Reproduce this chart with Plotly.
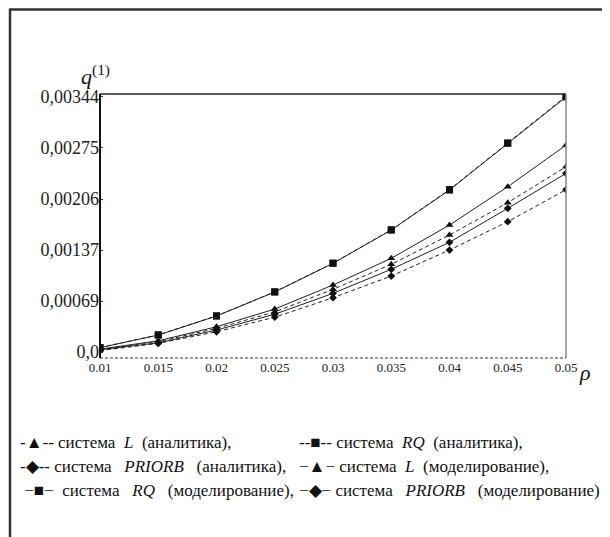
import plotly.graph_objects as go

rho = [0.01, 0.015, 0.02, 0.025, 0.03, 0.035, 0.04, 0.045, 0.05]

rq_analytic = [0.00006, 0.000232, 0.000488, 0.000812, 0.001199, 0.001648, 0.002190, 0.002820, 0.00345]
rq_model = [0.00006, 0.000229, 0.000486, 0.000810, 0.001197, 0.001646, 0.002185, 0.002815, 0.00344]
l_analytic = [0.00003, 0.000139, 0.000320, 0.000540, 0.000846, 0.001183, 0.001578, 0.002014, 0.00250]
l_model = [0.00004, 0.000152, 0.000341, 0.000580, 0.000904, 0.001264, 0.001713, 0.002230, 0.00279]
prb_analytic = [0.00002, 0.000117, 0.000274, 0.000470, 0.000733, 0.001025, 0.001376, 0.001758, 0.00219]
prb_model = [0.00003, 0.000125, 0.000297, 0.000510, 0.000792, 0.001116, 0.001480, 0.001938, 0.00241]

y_tick_vals = [0.0, 0.000688, 0.001376, 0.002064, 0.002752, 0.00344]
y_tick_text = ["0,0", "0,00069", "0,00137", "0,00206", "0,00275", "0,00344"]
x_tick_vals = rho
x_tick_text = ["0.01", "0.015", "0.02", "0.025", "0.03", "0.035", "0.04", "0.045", "0.05"]

S = "\u00a0"
legend_rows = [
    ["-▲-- система" + S*2 + "<i>L</i>" + S*2 + "(аналитика),",
     "--■-- система" + S*2 + "<i>RQ</i>" + S*2 + "(аналитика),"],
    ["-◆-- система" + S*3 + "<i>PRIORB</i>" + S*3 + "(аналитика),",
     "−▲−" + S + "система" + S*2 + "<i>L</i>" + S*2 + "(моделирование),"],
    [S + "−■−" + S*2 + "система" + S*3 + "<i>RQ</i>" + S*3 + "(моделирование),",
     "−◆−" + S + "система" + S*3 + "<i>PRIORB</i>" + S*3 + "(моделирование)"],
]

# page body adds an 8px margin; work in window pixels and shift
OFF = 8
W, H = 610 - OFF, 537 - OFF
L, R, T, B = 100 - OFF, 44, 94 - OFF, 179
PW, PH = W - L - R, H - T - B

def px(x):
    return (x - OFF - L) / PW

def py(y):
    return (H - B - (y - OFF)) / PH

FONT = "Liberation Serif, Times New Roman, serif"

series = [
    (rq_analytic, "dash", "square", 7),
    (rq_model, "solid", "square", 7),
    (l_analytic, "dash", "triangle-up", 7),
    (l_model, "solid", "triangle-up", 7),
    (prb_analytic, "dash", "diamond", 6),
    (prb_model, "solid", "diamond", 6),
]

fig = go.Figure()
for vals, dash, sym, size in series:
    fig.add_trace(go.Scatter(
        x=rho, y=vals, mode="lines+markers",
        line=dict(color="#222", width=1, dash="4px,3px" if dash == "dash" else "solid"),
        marker=dict(symbol=sym, size=size, color="#111"),
        showlegend=False,
    ))

fig.update_xaxes(
    range=[0.01, 0.05], tickvals=x_tick_vals, ticktext=x_tick_text,
    showgrid=False, zeroline=False, showline=False, ticks="",
    tickfont=dict(family=FONT, size=13, color="#222"),
)
fig.update_yaxes(
    range=[-0.00008, 0.00348], tickvals=y_tick_vals, ticktext=y_tick_text,
    showgrid=False, zeroline=False, showline=False,
    ticks="inside", ticklen=3, tickcolor="#333",
    tickfont=dict(family=FONT, size=18, color="#222"),
)

shapes = [
    dict(type="line", xref="paper", yref="paper", x0=0, x1=0, y0=0, y1=1, line=dict(color="#111", width=2)),
    dict(type="line", xref="paper", yref="paper", x0=0, x1=1, y0=1, y1=1, line=dict(color="#222", width=1.5)),
    dict(type="line", xref="paper", yref="paper", x0=1, x1=1, y0=0, y1=1, line=dict(color="#888", width=1.5)),
    dict(type="line", xref="paper", yref="paper", x0=0, x1=1, y0=0, y1=0, line=dict(color="#333", width=1.2, dash="3px,2px")),
    dict(type="line", xref="paper", yref="paper", x0=px(10), x1=px(610), y0=py(9.5), y1=py(9.5), line=dict(color="#333", width=2.5)),
    dict(type="line", xref="paper", yref="paper", x0=px(10), x1=px(10), y0=py(8.5), y1=py(537), line=dict(color="#333", width=2.5)),
]

annotations = [
    dict(text="<i>q</i><sup>(1)</sup>", x=px(95), y=py(75), xref="paper", yref="paper",
         xanchor="center", yanchor="middle",
         showarrow=False, font=dict(family=FONT, size=22, color="#111")),
    dict(text="<i>ρ</i>", x=px(585), y=py(372), xref="paper", yref="paper",
         xanchor="center", yanchor="middle",
         showarrow=False, font=dict(family=FONT, size=22, color="#111")),
]
col_x = [18, 297]
row_y = [442, 466, 490]
for r, row in enumerate(legend_rows):
    for c, txt in enumerate(row):
        annotations.append(dict(
            text=txt, x=px(col_x[c]), y=py(row_y[r]), xref="paper", yref="paper",
            xanchor="left", yanchor="middle", showarrow=False,
            font=dict(family=FONT, size=17, color="#111"),
        ))

fig.update_layout(
    width=W, height=H,
    margin=dict(l=L, r=R, t=T, b=B),
    paper_bgcolor="white", plot_bgcolor="white",
    shapes=shapes, annotations=annotations,
)

fig.write_html("out.html")
